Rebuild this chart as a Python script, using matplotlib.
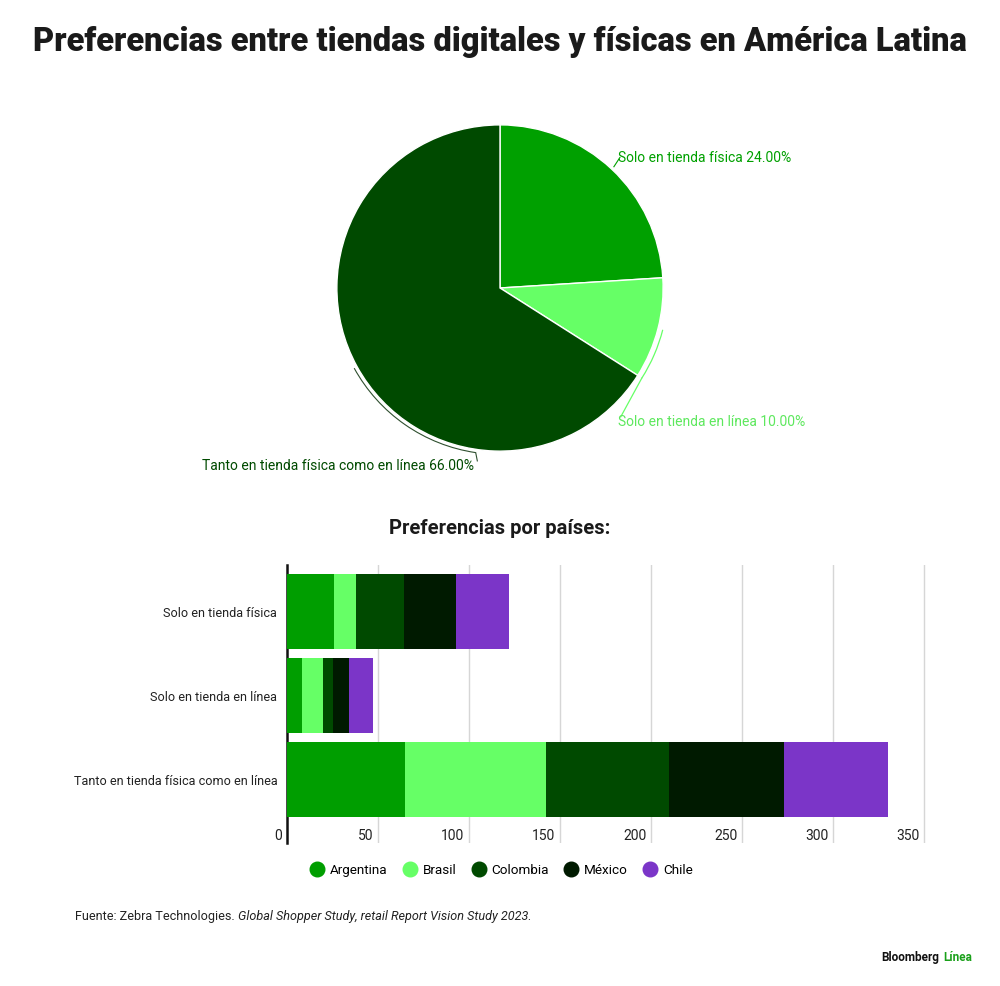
import matplotlib
matplotlib.use("Agg")
import matplotlib.pyplot as plt
from matplotlib.patches import Arc
from matplotlib.lines import Line2D
import numpy as np

plt.rcParams['font.family'] = ['Roboto', 'DejaVu Sans']

titulo = "Preferencias entre tiendas digitales y físicas en América Latina"
subtitulo = "Preferencias por países:"
fuente_a = "Fuente: Zebra Technologies. "
fuente_b = "Global Shopper Study, retail Report Vision Study 2023."

# pie data
pie_labels = ["Solo en tienda física", "Solo en tienda en línea",
              "Tanto en tienda física como en línea"]
pie_values = [24.0, 10.0, 66.0]
pie_colors = ["#00a000", "#66ff66", "#004a00"]

# bar data
categorias = ["Solo en tienda física", "Solo en tienda en línea",
              "Tanto en tienda física como en línea"]
paises = ["Argentina", "Brasil", "Colombia", "México", "Chile"]
argentina = [26, 8, 65]
brasil = [12, 12, 77]
colombia = [26, 5, 68]
mexico = [29, 9, 63]
chile = [29, 13, 57]
colores_paises = ["#009e00", "#66ff66", "#004a00", "#001a00", "#7b35c8"]
x_ticks = [0, 50, 100, 150, 200, 250, 300, 350]

fig = plt.figure(figsize=(10, 9.86), dpi=100)
fig.patch.set_facecolor("white")

fig.text(0.5, 0.957, titulo, ha="center", va="center", fontsize=23.5,
         fontweight="heavy", color="#1a1a1a")

# ---- pie ----
ax_pie = fig.add_axes([0.239, 0.4432, 0.522, 0.5294])
ax_pie.patch.set_visible(False)
wedges, _ = ax_pie.pie(pie_values, colors=pie_colors, startangle=90,
                       counterclock=False, radius=1,
                       wedgeprops=dict(edgecolor="white", linewidth=1))
ax_pie.set_xlim(-1.6, 1.6)
ax_pie.set_ylim(-1.6, 1.6)
ax_pie.set_aspect("equal")
ax_pie.axis("off")

# slice angles
bounds = 90 - 3.6 * np.concatenate([[0], np.cumsum(pie_values)])
mids = (bounds[:-1] + bounds[1:]) / 2

def pol(r, a):
    return r * np.cos(np.radians(a)), r * np.sin(np.radians(a))

lbl = [f"{l} {v:.2f}%" for l, v in zip(pie_labels, pie_values)]

# 24% label
p0 = pol(1.02, mids[0])
ax_pie.plot([p0[0], 0.735], [p0[1], 0.80], color=pie_colors[0], lw=0.8)
ax_pie.text(0.724, 0.80, lbl[0], color=pie_colors[0], fontsize=10,
            ha="left", va="center")

# 10% label with bracket arc
ax_pie.add_patch(Arc((0, 0), 2.06, 2.06, theta1=bounds[2], theta2=mids[1],
                     color=pie_colors[1], lw=0.9))
p1 = pol(1.03, bounds[2])
ax_pie.plot([p1[0], 0.74], [p1[1], -0.79], color=pie_colors[1], lw=0.9)
ax_pie.text(0.724, -0.822, lbl[1], color="#5ee85e", fontsize=10,
            ha="left", va="center")

# 66% label with bracket arc
ax_pie.add_patch(Arc((0, 0), 2.04, 2.04, theta1=mids[2], theta2=-98.4,
                     color="#2f4f2f", lw=0.8))
p2 = pol(1.02, -98.4)
ax_pie.plot([p2[0], p2[0] + 0.01], [p2[1], -1.06], color="#2f4f2f", lw=0.8)
ax_pie.text(-0.16, -1.09, lbl[2], color=pie_colors[2], fontsize=10,
            ha="right", va="center")

# ---- bars ----
fig.text(0.5, 0.4645, subtitulo, ha="center", va="center", fontsize=14.5,
         fontweight="bold", color="#1a1a1a")

ax = fig.add_axes([0.287, 0.145, 0.639, 0.282])
y = np.arange(len(categorias))
series = [argentina, brasil, colombia, mexico, chile]
left = np.zeros(len(categorias))
for vals, col in zip(series, colores_paises):
    ax.barh(y, vals, left=left, height=0.893, color=col, zorder=3)
    left += np.array(vals)

ax.set_xlim(0, 351)
ax.set_ylim(2.756, -0.554)
for s in ["top", "right", "bottom"]:
    ax.spines[s].set_visible(False)
ax.spines["left"].set_linewidth(1.8)
ax.spines["left"].set_color("#111111")
ax.set_xticks([])
for t in x_ticks:
    if t > 0:
        ax.axvline(t, color="#d6d6d6", lw=1, zorder=1)
    ax.text(t - 2.7, 2.67, str(t), ha="right", va="center", fontsize=10,
            color="#222222")
ax.set_yticks(y)
ax.set_yticklabels(categorias, fontsize=9.1, color="#222222")
ax.tick_params(axis="y", length=0, pad=7)

handles = [Line2D([], [], marker="o", ls="", markersize=10.5, color=c,
                  markeredgecolor=c) for c in colores_paises]
fig.legend(handles, paises, loc="center", bbox_to_anchor=(0.5, 0.1176),
           ncol=5, frameon=False, fontsize=9.7, handletextpad=0.2,
           columnspacing=0.9, handlelength=1.5)

# ---- footer ----
t1 = fig.text(0.075, 0.07, fuente_a, ha="left", va="center", fontsize=9.1,
              color="#222222")
fig.canvas.draw()
bb = t1.get_window_extent()
x2 = bb.x1 / fig.bbox.width
fig.text(x2, 0.07, fuente_b, ha="left", va="center", fontsize=9.1,
         color="#222222", style="italic")

t3 = fig.text(0.972, 0.0284, "Línea", ha="right", va="center", fontsize=8.5,
              fontweight="bold", color="#1aa01a")
fig.canvas.draw()
bb3 = t3.get_window_extent()
fig.text(bb3.x0 / fig.bbox.width - 0.004, 0.0284, "Bloomberg", ha="right",
         va="center", fontsize=8.5, fontweight="bold", color="#111111")

fig.savefig("out.png", dpi=100, facecolor="white")
